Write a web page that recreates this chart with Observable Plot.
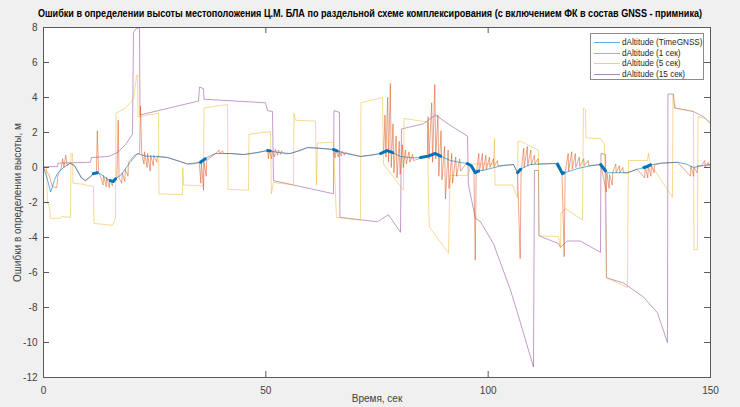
<!DOCTYPE html>
<html>
<head>
<meta charset="utf-8">
<script src="https://cdn.jsdelivr.net/npm/d3@7"></script>
<script src="https://cdn.jsdelivr.net/npm/@observablehq/plot@0.6"></script>
<style>
  html, body { margin: 0; padding: 0; background: #f0f0f0; }
  #wrap { position: relative; width: 740px; height: 407px; background: #f0f0f0; overflow: hidden;
          font-family: "Liberation Sans", Arial, sans-serif; }
  #title { position: absolute; left: 370px; top: 7px; font-weight: bold; font-size: 11.5px; color: #000;
           white-space: nowrap; transform-origin: center; }
  #chart { position: absolute; left: 0; top: 0; }
  #legend { position: absolute; left: 590px; top: 33px; width: 114px; height: 47px; background: #fff;
            border: 1px solid #8a8a8a; box-sizing: border-box; font-size: 9.5px; color: #262626; }
  .row { position: absolute; left: 0; height: 11px; line-height: 11px; white-space: nowrap; }
  .row span.sw { position: absolute; left: 3px; top: 6px; width: 26px; height: 0; border-top: 1px solid; }
  .row span.lb { position: absolute; left: 31px; top: 0; transform: scaleX(0.86); transform-origin: left; }
</style>
</head>
<body>
<div id="wrap">
  <div id="chart"></div>
  <div id="title"></div>
  <div id="legend"></div>
</div>
<script>
// ---- data ----
const titleText = "Ошибки в определении высоты местоположения Ц.М. БЛА по раздельной схеме комплексирования (с включением ФК в состав GNSS - примника)";
const xLabel = "Время, сек";
const yLabel = "Ошибки в определении высоты, м";
const seriesNames = ["dAltitude (TimeGNSS)", "dAltitude (1 сек)", "dAltitude (5 сек)", "dAltitude (15 сек)"];
const seriesColors = ["#0072BD", "#D95319", "#EDB120", "#7E2F8E"];
const xTicks = [0, 50, 100, 150];
const yTicks = [-12, -10, -8, -6, -4, -2, 0, 2, 4, 6, 8];

// [time, error]
const timeGNSS = [[0,0],[0.8,-0.6],[1.6,-1.4],[2.5,-0.7],[3.1,-0.35],[4.5,0],[6,0.25],[7,0.1],[8.5,-0.6],[9.4,-0.75],[10.3,-0.6],[11.2,-0.35],[12.1,-0.3],[13,-0.4],[14,-0.6],[15,-0.75],[15.7,-0.8],[16.2,-0.65],[17.5,-0.4],[19.5,0.3],[21.1,0.8],[23,0.65],[25.2,0.63],[27.9,0.57],[30,0.4],[32.4,0.2],[34,0.22],[35.3,0.3],[36.4,0.5],[37,0.6],[38.7,0.8],[42,0.8],[45,0.74],[48,0.85],[50.4,0.97],[51,0.95],[53,0.85],[55.5,0.8],[57.5,0.95],[59.4,1.14],[62,1.1],[65.2,1.03],[66,0.95],[68,0.8],[71.3,0.63],[73.5,0.7],[75.8,0.8],[77.3,0.97],[78.5,0.85],[80.3,0.63],[83,0.55],[84.8,0.57],[86.5,0.65],[88.1,0.8],[89.3,0.65],[91.5,0.4],[93.5,0.3],[95.3,0.23],[96.2,0.1],[97.1,-0.3],[97.8,-0.2],[99,-0.15],[100.5,-0.06],[103,0.1],[105.7,0.17],[106.6,-0.3],[107.3,-0.1],[108,0],[109.5,0.17],[112,0.2],[115,0.23],[115.6,0.2],[116.7,-0.35],[117,-0.3],[118.5,-0.2],[120.1,-0.06],[123,0.1],[125.3,0.17],[126.4,-0.2],[127,-0.3],[129,-0.3],[131.3,-0.3],[133.5,-0.1],[135,0.0],[135.8,0.06],[136.5,0.15],[139,0.25],[142.6,0.3],[144.5,0.2],[146.2,0],[148,0.1],[150,0.17]];

// dense (thick) stretches of the TimeGNSS curve [from, to]
const denseSpans = [[11.2,12.1],[15.0,16.2],[35.3,36.4],[50.4,51.0],[65.2,66.0],[75.8,78.5],[84.8,89.3],[95.3,97.8],[106.0,107.3],[115.6,117.0],[125.3,126.4],[135.0,136.5]];

const sec1 = [[0,0],[1.2,-0.4],[2.0,-1.1],[3.0,-1.15],[3.2,-0.5],[4.0,0.0],[4.3,0.5],[4.6,0.0],[5.0,0.7],[5.3,0.1],[6.0,0.25],[7.0,0.1],[8.5,-0.55],[9.4,-0.75],[10.3,-0.55],[11.2,-0.4],
[11.9,-0.35],[12.1,2.1],[12.4,-0.3],[12.9,-0.55],[13.4,-1.0],[13.5,-0.45],[14.1,-1.1],[14.2,-0.55],[14.8,-1.15],[14.9,-0.7],[15.5,-1.05],[15.6,-0.8],
[16.5,-0.6],[16.8,2.7],[17.0,-0.6],[17.6,-0.9],[17.7,-0.3],[18.3,-0.8],[18.4,-0.1],[19.0,-0.5],[19.1,0.3],[20.5,0.7],
[21.6,0.8],[21.8,3.5],[22.1,0.8],[22.6,0.2],[22.7,0.9],[23.3,0.0],[23.4,0.8],[24.0,-0.2],[24.1,0.7],[24.7,0.1],[24.8,0.7],[25.5,0.3],[25.6,0.65],[27.9,0.57],[30,0.4],[32.4,0.2],[35,0.3],
[35.4,-0.9],[35.5,0.3],[36.0,-1.3],[36.1,0.3],[36.6,-0.5],[36.7,0.4],[38.7,0.8],[39.5,1.0],[39.6,0.8],[40.3,0.95],[40.4,0.8],[42,0.8],[45,0.74],[48,0.85],[50.4,0.97],
[50.6,0.5],[50.7,1.0],[51.3,0.5],[51.4,0.95],[52,0.6],[52.1,1.05],[52.7,0.7],[52.8,1.0],[53.4,0.75],[53.5,0.95],[54.1,0.78],[55.5,0.8],[59.4,1.14],[62,1.1],[65.2,1.03],
[65.6,0.55],[65.7,1.05],[66.3,0.6],[66.4,1.0],[67,0.65],[67.1,0.95],[67.7,0.7],[67.8,0.85],[71.3,0.63],[73.5,0.7],[75.8,0.8],
[76.5,0.9],[76.8,3.0],[77.0,0.6],[77.4,4.0],[77.6,0.3],[78.0,4.8],[78.2,0.0],[78.6,2.5],[78.8,-0.3],[79.3,1.8],[79.5,-0.6],[80.0,1.5],[80.2,-0.4],[80.7,1.3],[80.9,0.0],[81.4,1.0],[81.6,0.2],[82.2,0.9],[82.4,0.3],[83,0.75],[83.2,0.4],[85.4,0.57],
[86.3,0.7],[86.5,2.9],[86.7,0.5],[87.3,3.7],[87.5,0.3],[88.0,4.75],[88.2,0.5],[88.7,3.0],[88.9,-0.5],[89.4,2.1],[89.6,-0.7],[90.2,1.2],[90.4,-1.8],[91.0,1.0],[91.2,-1.2],[91.8,0.8],[92.0,-0.9],[92.7,0.6],[92.9,-0.5],[93.6,0.5],[93.8,-0.2],[95,0.2],[95.6,0.23],
[96.8,-0.2],[97.1,-5.3],[97.3,-0.4],[97.9,0.8],[98.0,-0.3],[98.7,0.8],[98.8,-0.2],[99.5,0.7],[99.6,-0.1],[100.3,0.6],[100.4,0.0],[101.2,0.5],[101.3,0.05],[102.1,0.4],[102.2,0.1],[105.7,0.17],
[106.6,-0.3],[107.2,-5.2],[107.4,-0.3],[108.0,1.1],[108.1,0.0],[108.8,1.2],[108.9,0.1],[109.6,1.0],[109.7,0.15],[110.4,0.7],[110.5,0.2],[111.2,0.5],[111.3,0.2],[115,0.23],
[116.6,-0.35],[117.1,-5.1],[117.3,-0.3],[118.0,0.8],[118.1,-0.2],[118.8,0.9],[118.9,-0.1],[119.6,0.8],[119.7,0.0],[120.5,0.6],[120.6,0.05],[121.5,0.5],[121.6,0.1],[122.5,0.4],[122.6,0.1],[125.3,0.17],
[126.6,-1.4],[126.7,-0.3],[127.2,-1.2],[127.3,-0.4],[127.9,-1.0],[128.0,-0.3],[128.7,0.2],[128.8,-0.3],[129.5,0.1],[129.6,-0.3],[130.3,0.0],[130.4,-0.3],[131.3,-0.3],[133.5,-0.1],
[135.2,-0.6],[135.3,0.05],[135.9,-0.6],[136.0,0.1],[136.6,-0.5],[136.7,0.1],[137.3,-0.3],[137.4,0.15],[139,0.25],[142.6,0.3],
[145.5,-0.5],[145.6,0.1],[146.2,-0.5],[146.3,0.0],[147,-0.3],[147.1,0.1],[148,0.1],[148.7,0.4],[148.8,0.0],[149.5,0.3],[149.6,0.1],[150,0.17]];

const sec5 = [[0,0],[0.67,0],[0.9,-2.0],[1.35,-2.3],[1.57,-2.9],[3.82,-2.9],[4.05,-2.8],[6.07,-2.85],[6.18,0.8],[6.52,0.8],[6.63,-0.9],[8.77,-0.95],[11.24,-1.1],[11.36,-3.2],[15.52,-3.3],[16.19,-2.9],[16.3,3.1],[18.44,3.4],[20.24,3.9],[20.91,5.2],[21.14,5.3],[21.25,2.9],[25.86,3.1],[25.97,-1.5],[31.26,-1.55],[31.32,0.0],[31.48,-1.0],[35.98,-1.05],[36.09,3.4],[41.38,3.6],[41.49,-1.25],[46.1,-1.3],[46.21,1.9],[51.04,2.05],[51.27,-1.5],[51.72,-0.85],[56.22,-1.0],[56.33,3.1],[56.67,2.7],[61.17,2.65],[61.39,-1.0],[61.61,1.4],[65.21,1.45],[65.88,-2.85],[71.28,-3.0],[71.39,3.7],[76.23,4.0],[76.46,0.2],[80.95,-1.3],[81.07,2.8],[86.35,2.6],[86.58,-1.9],[86.8,-3.4],[91.07,-4.9],[91.3,-1.9],[91.52,-0.45],[95.57,-0.45],[96.02,0.2],[101.19,0.2],[101.42,1.65],[101.53,-1.0],[105.46,-1.0],[106.59,-1.7],[106.7,1.5],[107.26,1.5],[111.31,1.0],[111.42,-3.9],[115.81,-3.95],[116.26,-4.6],[116.37,-2.6],[117.38,-2.35],[121.2,-3.0],[121.43,3.4],[121.88,3.3],[121.99,1.7],[125.26,1.65],[126.16,1.35],[126.61,-6.3],[131.33,-6.85],[131.44,-2.0],[131.55,0.4],[135.82,0.4],[136.05,0.8],[136.5,0.2],[141.44,-1.7],[141.56,4.2],[142.12,3.4],[146.17,3.2],[146.28,-4.7],[147.06,-4.7],[147.18,2.9],[148.86,2.8],[150,2.45]];

const sec15 = [[0,0.05],[3.15,0.05],[3.26,0.25],[10.57,0.3],[10.79,0.57],[14.62,0.63],[16.64,0.86],[18.44,1.3],[20.01,1.9],[20.24,7.7],[20.69,7.9],[21.59,8.0],[21.7,3.0],[34.86,3.8],[35.08,4.6],[35.98,4.5],[36.09,3.9],[49.92,3.7],[50.37,3.25],[51.5,3.2],[51.72,-0.75],[65.21,-1.5],[65.32,3.25],[66.56,3.15],[66.67,-2.85],[75.11,-3.1],[77.58,-2.7],[80.28,-3.7],[80.5,2.2],[85.45,2.5],[88.15,3.0],[91.52,2.4],[95.34,1.8],[95.57,-1.0],[97.14,-2.9],[98.27,-3.1],[101.19,-4.35],[105.01,-7.0],[106.59,-8.3],[110.19,-11.4],[110.41,-0.17],[111.31,-0.17],[111.42,-3.9],[115.81,-4.35],[116.26,-4.55],[117.83,-4.2],[120.76,-4.2],[125.26,-4.85],[125.37,0.8],[126.38,0.75],[126.61,-6.3],[130.43,-6.6],[134.92,-7.4],[138.07,-8.3],[140.32,-10.0],[140.43,4.2],[141.67,4.2],[141.89,3.4],[146.17,3.2],[148.41,2.9],[150,2.55]];

// ---- chart ----
const titleEl = document.getElementById("title");
titleEl.textContent = titleText;

const spanIndex = t => denseSpans.findIndex(([a, b]) => t >= a && t <= b);
const thin = 0.8;

const chart = Plot.plot({
  width: 740,
  height: 407,
  marginLeft: 43,
  marginRight: 30,
  marginTop: 27,
  marginBottom: 30,
  style: { background: "transparent", fontFamily: "'Liberation Sans', Arial, sans-serif" },
  x: { domain: [0, 150], ticks: xTicks },
  y: { domain: [-12, 8], ticks: yTicks },
  marks: [
    Plot.frame({ fill: "white" }),
    Plot.line(sec15, { x: d => d[0], y: d => d[1], stroke: seriesColors[3], strokeWidth: thin, strokeOpacity: 0.6 }),
    Plot.line(sec5, { x: d => d[0], y: d => d[1], stroke: seriesColors[2], strokeWidth: thin, strokeOpacity: 0.6 }),
    Plot.line(sec1, { x: d => d[0], y: d => d[1], stroke: seriesColors[1], strokeWidth: thin, strokeOpacity: 0.65 }),
    Plot.line(timeGNSS, { x: d => d[0], y: d => d[1], stroke: seriesColors[0], strokeWidth: 0.9, strokeOpacity: 0.65 }),
    Plot.line(timeGNSS, { filter: d => spanIndex(d[0]) >= 0, z: d => spanIndex(d[0]), x: d => d[0], y: d => d[1], stroke: seriesColors[0], strokeWidth: 3 }),
    Plot.frame({ stroke: "#5a5a5a", strokeWidth: 1 }),
    // inner ticks on all four sides (MATLAB box style)
    Plot.tickY(yTicks, { y: d => d, insetRight: 661, stroke: "#5a5a5a" }),
    Plot.tickY(yTicks, { y: d => d, insetLeft: 661, stroke: "#5a5a5a" }),
    Plot.tickX(xTicks, { x: d => d, insetBottom: 344, stroke: "#5a5a5a" }),
    Plot.tickX(xTicks, { x: d => d, insetTop: 344, stroke: "#5a5a5a" }),
    Plot.axisY({ ticks: yTicks, tickSize: 0, tickPadding: 6, tickFormat: d => String(d), fontSize: 10, color: "#404040",
                 label: yLabel, labelAnchor: "center", labelArrow: "none", labelOffset: 30 }),
    Plot.axisX({ ticks: xTicks, tickSize: 0, tickPadding: 9, tickFormat: d => String(d), fontSize: 10, color: "#404040",
                 label: xLabel, labelAnchor: "center", labelArrow: "none", labelOffset: 24 })
  ]
});
document.getElementById("chart").appendChild(chart);

// fit the title to the reference width, centred on x = 370
const tw = titleEl.getBoundingClientRect().width;
const s = tw > 0 ? 664 / tw : 1;
titleEl.style.transform = `translateX(-50%) scaleX(${s})`;

// legend
const legend = document.getElementById("legend");
seriesNames.forEach((name, i) => {
  const row = document.createElement("div");
  row.className = "row";
  row.style.top = (2 + i * 10.7) + "px";
  row.style.width = "100%";
  const sw = document.createElement("span");
  sw.className = "sw";
  sw.style.borderColor = seriesColors[i];
  sw.style.opacity = 0.6;
  const lb = document.createElement("span");
  lb.className = "lb";
  lb.textContent = name;
  row.appendChild(sw); row.appendChild(lb);
  legend.appendChild(row);
});
</script>
</body>
</html>
